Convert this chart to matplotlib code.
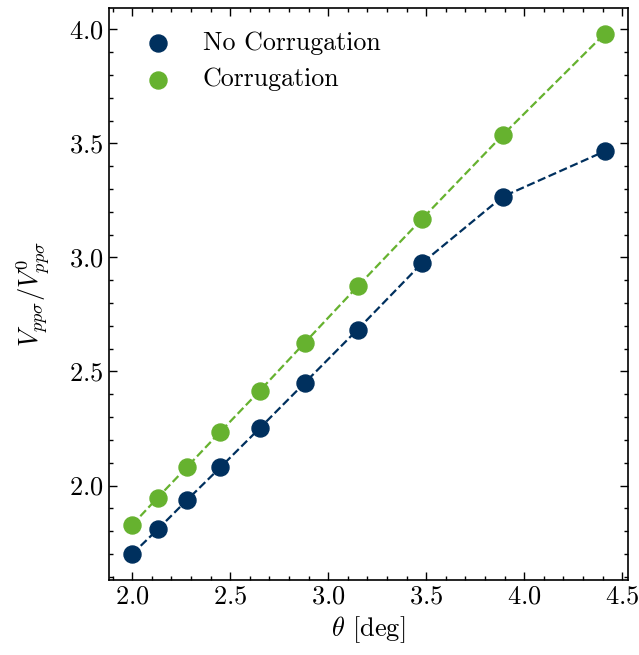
import matplotlib
matplotlib.use('Agg')
import matplotlib.pyplot as plt
from matplotlib.ticker import MultipleLocator

plt.rcParams['font.family'] = 'serif'
plt.rcParams['font.serif'] = ['cmr10', 'DejaVu Serif']
plt.rcParams['mathtext.fontset'] = 'cm'
plt.rcParams['axes.formatter.use_mathtext'] = True
plt.rcParams['axes.unicode_minus'] = False

theta = [2.00, 2.13, 2.28, 2.45, 2.65, 2.88, 3.15, 3.48, 3.89, 4.41]
no_corr = [1.700, 1.808, 1.937, 2.080, 2.251, 2.450, 2.684, 2.976, 3.266, 3.465]
corr = [1.828, 1.947, 2.082, 2.236, 2.415, 2.626, 2.873, 3.170, 3.536, 3.980]

navy = '#00305e'
green = '#66b22f'

fig = plt.figure(figsize=(6.39, 6.55), dpi=100)
ax = fig.add_axes([0.17, 0.1145, 0.813, 0.8735])

ax.plot(theta, no_corr, '--', color=navy, lw=1.6, zorder=2)
ax.plot(theta, corr, '--', color=green, lw=1.6, zorder=2)
ax.scatter(theta, no_corr, s=150, color=navy, label='No Corrugation', zorder=3)
ax.scatter(theta, corr, s=150, color=green, label='Corrugation', zorder=3)

ax.set_xlabel(r'$\theta$ [deg]', fontsize=19)
ax.set_ylabel(r'$V_{pp\sigma}/V^0_{pp\sigma}$', fontsize=19, labelpad=12)

ax.xaxis.set_major_locator(MultipleLocator(0.5))
ax.xaxis.set_minor_locator(MultipleLocator(0.1))
ax.yaxis.set_major_locator(MultipleLocator(0.5))
ax.yaxis.set_minor_locator(MultipleLocator(0.1))
ax.tick_params(which='both', direction='in', top=True, right=True, labelsize=19)
ax.tick_params(which='major', length=6, width=1)
ax.tick_params(which='minor', length=3, width=1)
for s in ax.spines.values():
    s.set_linewidth(1.2)

ax.legend(loc='upper left', frameon=False, fontsize=18.6, handletextpad=0.75,
          borderpad=0.4, labelspacing=0.5, borderaxespad=0.5)

fig.savefig('out.png', dpi=100)
